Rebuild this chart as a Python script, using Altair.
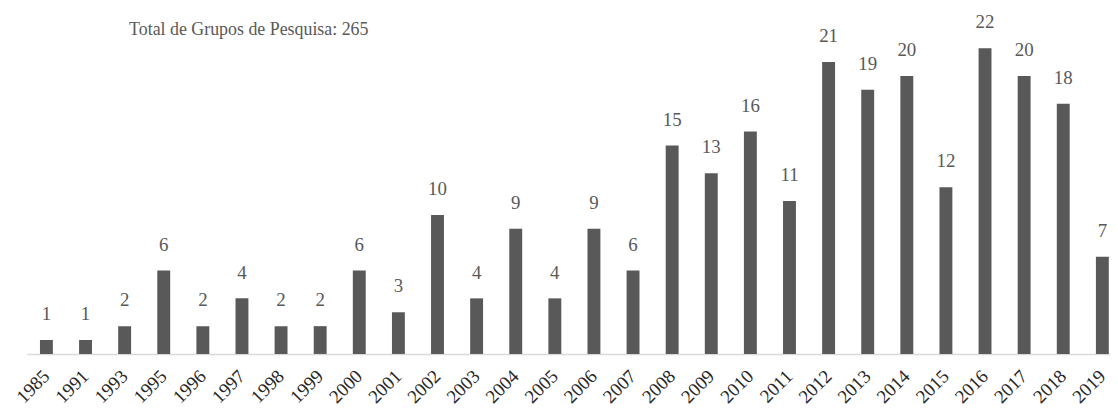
import altair as alt
import pandas as pd

years = ["1985", "1991", "1993", "1995", "1996", "1997", "1998", "1999", "2000",
         "2001", "2002", "2003", "2004", "2005", "2006", "2007", "2008", "2009",
         "2010", "2011", "2012", "2013", "2014", "2015", "2016", "2017", "2018", "2019"]
counts = [1, 1, 2, 6, 2, 4, 2, 2, 6, 3, 10, 4, 9, 4, 9, 6, 15, 13, 16, 11,
          21, 19, 20, 12, 22, 20, 18, 7]
title_text = "Total de Grupos de Pesquisa: 265"

df = pd.DataFrame({"ano": years, "grupos": counts})

FONT = "Liberation Serif"

x = alt.X("ano:N", sort=years,
          scale=alt.Scale(range=[0, 1103], paddingInner=0, paddingOuter=0),
          axis=alt.Axis(title=None, labelAngle=-45, labelAlign="right", labelBaseline="middle",
                        labelFont=FONT, labelFontSize=19, labelColor="#262626",
                        labelPadding=19, ticks=False, domainColor="#d9d9d9",
                        domainWidth=1.5, grid=False, labelOverlap=False))
y = alt.Y("grupos:Q", scale=alt.Scale(domain=[0, 24], nice=False), axis=None)

bars = alt.Chart(df).mark_bar(size=13, color="#595959", clip=True).encode(x=x, y=y)
labels = alt.Chart(df).mark_text(dy=-20, baseline="alphabetic", font=FONT, fontSize=19,
                                 color="#595959").encode(x=x, y=y, text="grupos:Q")
title = alt.Chart(pd.DataFrame({"t": [title_text]})).mark_text(
    align="left", baseline="middle", font=FONT, fontSize=18, color="#595959").encode(
    x=alt.value(103), y=alt.value(10), text="t:N")

chart = alt.layer(bars, labels, title).properties(
    width=1091, height=336,
    autosize=alt.AutoSizeParams(type="none"),
    padding={"left": 19, "top": 11, "right": 0, "bottom": 57},
).configure_view(stroke=None)

chart.save("out.html", embed_options={"renderer": "svg", "actions": False})
